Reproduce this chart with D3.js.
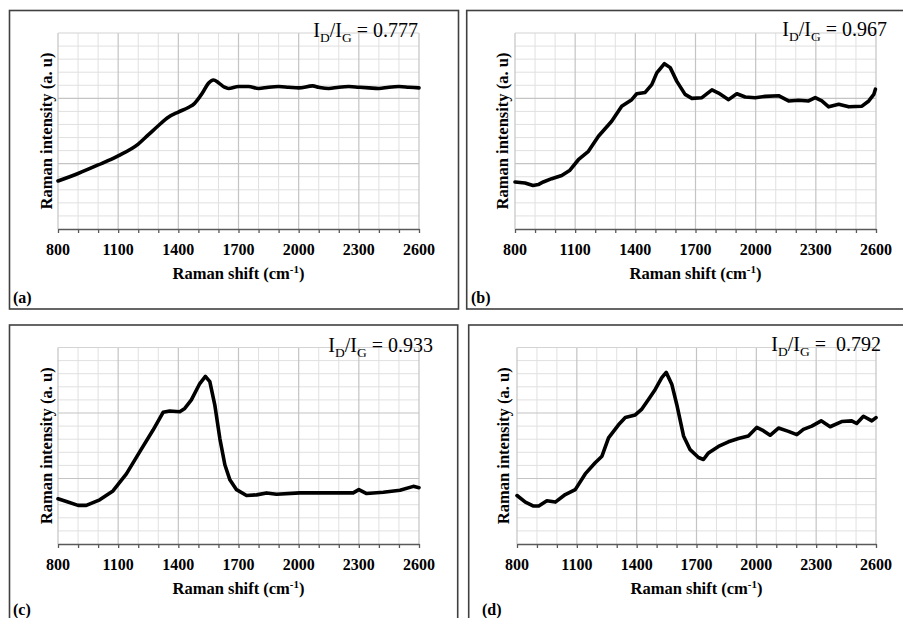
<!DOCTYPE html>
<html><head><meta charset="utf-8">
<script src="https://cdn.jsdelivr.net/npm/d3@7"></script>
<style>body{margin:0;background:#fff}svg{display:block}</style>
</head><body>
<svg id="c" width="903" height="618"></svg>
<script>
// ---- data ----
const xTicks = [800, 1100, 1400, 1700, 2000, 2300, 2600];
const panelLabels = ["(a)", "(b)", "(c)", "(d)"];
const ratios = ["0.777", "0.967", "0.933", " 0.792"];

const shiftA = [800,900,1000,1100,1200,1250,1300,1350,1400,1450,1480,1520,1550,1575,1600,1630,1650,1700,1750,1800,1850,1900,1950,2000,2070,2100,2150,2200,2250,2300,2350,2400,2450,2500,2550,2600];
const intA   = [0.735,0.85,0.98,1.12,1.30,1.44,1.58,1.71,1.79,1.86,1.92,2.08,2.23,2.28,2.24,2.17,2.15,2.18,2.18,2.15,2.17,2.18,2.17,2.16,2.19,2.17,2.15,2.17,2.18,2.17,2.16,2.15,2.17,2.18,2.17,2.16];

const shiftB = [800,850,890,916,941,983,1033,1074,1116,1166,1216,1282,1332,1382,1407,1449,1482,1507,1545,1574,1607,1648,1682,1732,1782,1815,1865,1906,1948,1998,2048,2114,2164,2214,2264,2297,2330,2364,2414,2464,2530,2564,2589,2597];
const intB   = [0.72,0.705,0.665,0.68,0.72,0.77,0.82,0.90,1.06,1.19,1.42,1.65,1.88,1.98,2.07,2.09,2.21,2.39,2.53,2.47,2.26,2.06,2.00,2.01,2.13,2.08,1.98,2.07,2.02,2.01,2.03,2.04,1.96,1.97,1.96,2.01,1.96,1.87,1.91,1.87,1.88,1.96,2.06,2.14];

const shiftC = [800,842,900,941,1008,1074,1141,1208,1274,1324,1357,1407,1432,1465,1507,1535,1557,1582,1607,1632,1657,1690,1740,1790,1840,1890,2006,2172,2272,2300,2339,2422,2505,2572,2600];
const intC   = [0.69,0.65,0.59,0.59,0.675,0.81,1.07,1.41,1.74,2.01,2.03,2.02,2.07,2.20,2.45,2.56,2.48,2.12,1.61,1.21,0.98,0.83,0.74,0.75,0.78,0.76,0.78,0.78,0.78,0.83,0.77,0.79,0.82,0.88,0.86];

const shiftD = [800,842,883,909,950,992,1042,1092,1142,1192,1226,1259,1309,1343,1393,1426,1460,1493,1526,1548,1576,1601,1635,1668,1710,1735,1760,1810,1860,1910,1960,2002,2035,2069,2111,2161,2203,2236,2278,2325,2370,2428,2478,2503,2537,2579,2600];
const intD   = [0.74,0.64,0.58,0.58,0.66,0.64,0.755,0.83,1.07,1.24,1.34,1.62,1.82,1.93,1.97,2.06,2.21,2.36,2.54,2.62,2.44,2.13,1.65,1.44,1.32,1.29,1.39,1.49,1.56,1.61,1.65,1.78,1.73,1.66,1.77,1.72,1.67,1.75,1.80,1.88,1.79,1.87,1.88,1.84,1.95,1.88,1.93];

const series = [[shiftA,intA],[shiftB,intB],[shiftC,intC],[shiftD,intD]];

// ---- layout ----
const layout = [
  {box:[9.5,10.5,449,298.5], plot:[58,33,419,229], label:[13,303], ann:[418,37], yt:47},
  {box:[466.7,10.5,450,298.5], plot:[515,33,876,229], label:[471,303], ann:[887,36], yt:503},
  {box:[9.5,325,448.2,300], plot:[58,347.5,419,544], label:[13,615], ann:[433,352], yt:47},
  {box:[468.7,325,450,300], plot:[517,347.5,876,544], label:[482,615], ann:[881,351], yt:504}
];

const svg = d3.select("#c");
const serif = "'Liberation Serif','Times New Roman',serif";

layout.forEach((L, i) => {
  const g = svg.append("g");
  const [x0,y0,x1,y1] = L.plot;
  const x = d3.scaleLinear().domain([800,2600]).range([x0,x1]);
  const y = d3.scaleLinear().domain([0,3]).range([y1,y0]);

  // border
  g.append("rect").attr("x",L.box[0]).attr("y",L.box[1]).attr("width",L.box[2]).attr("height",L.box[3])
    .attr("fill","none").attr("stroke","#404040").attr("stroke-width",1.6);

  // grid
  const minorX = d3.range(900,2600,100).filter(v => (v-800)%300 !== 0);
  const majorX = d3.range(800,2601,300);
  const minorY = d3.range(0.2,3.0,0.2).filter(v => Math.abs(v-Math.round(v))>1e-6);
  const majorY = [1,2,3];
  g.selectAll(".mx").data(minorX).join("line")
    .attr("x1",d=>x(d)).attr("x2",d=>x(d)).attr("y1",y0).attr("y2",y1)
    .attr("stroke","#e0e0e0").attr("stroke-width",1);
  g.selectAll(".my").data(minorY).join("line")
    .attr("y1",d=>y(d)).attr("y2",d=>y(d)).attr("x1",x0).attr("x2",x1)
    .attr("stroke","#e0e0e0").attr("stroke-width",1);
  g.selectAll(".Mx").data(majorX).join("line")
    .attr("x1",d=>x(d)).attr("x2",d=>x(d)).attr("y1",y0).attr("y2",y1)
    .attr("stroke","#c4c4c4").attr("stroke-width",1.2);
  g.selectAll(".My").data(majorY).join("line")
    .attr("y1",d=>y(d)).attr("y2",d=>y(d)).attr("x1",x0).attr("x2",x1)
    .attr("stroke",d=>d===3?"#d4d4d4":"#c4c4c4").attr("stroke-width",1.2);

  // x axis
  const ax = g.append("g").attr("transform",`translate(0,${y1})`)
    .call(d3.axisBottom(x).tickValues(d3.range(800,2601,100)).tickSize(4).tickSizeOuter(0).tickFormat(""));
  ax.select(".domain").attr("stroke","#595959").attr("stroke-width",1.3);
  ax.selectAll(".tick line").attr("stroke","#595959").attr("stroke-width",1.3);
  g.selectAll(".xl").data(xTicks).join("text")
    .attr("x",d=>x(d)).attr("y",y1+26).attr("text-anchor","middle")
    .attr("font-family",serif).attr("font-weight","bold").attr("font-size",16).attr("fill","#000")
    .text(d=>d);

  // x title
  const xt = g.append("text").attr("x",(x0+x1)/2).attr("y",y1+50).attr("text-anchor","middle")
    .attr("font-family",serif).attr("font-weight","bold").attr("font-size",16.5).attr("fill","#000");
  xt.append("tspan").text("Raman shift (cm");
  xt.append("tspan").attr("dy",-6).attr("font-size",11).text("-1");
  xt.append("tspan").attr("dy",6).text(")");

  // y title
  g.append("text").attr("transform",`translate(${L.yt+5},${(y0+y1)/2}) rotate(-90)`)
    .attr("text-anchor","middle")
    .attr("font-family",serif).attr("font-weight","bold").attr("font-size",16.5).attr("fill","#000")
    .text("Raman intensity (a. u)");

  // curve
  const [sx, sy] = series[i];
  const pts = sx.map((v,k)=>[v, sy[k]]);
  g.append("path").datum(pts)
    .attr("fill","none").attr("stroke","#000").attr("stroke-width",3.6)
    .attr("stroke-linejoin","round").attr("stroke-linecap","round")
    .attr("d", d3.line().x(d=>x(d[0])).y(d=>y(d[1])).curve(i===0?d3.curveMonotoneX:d3.curveLinear));

  // annotation
  const an = g.append("text").attr("x",L.ann[0]).attr("y",L.ann[1]).attr("text-anchor","end")
    .attr("font-family",serif).attr("font-size",20).attr("fill","#000").attr("xml:space","preserve");
  an.append("tspan").text("I");
  an.append("tspan").attr("dy",5).attr("font-size",13.5).text("D");
  an.append("tspan").attr("dy",-5).text("/I");
  an.append("tspan").attr("dy",5).attr("font-size",13.5).text("G");
  an.append("tspan").attr("dy",-5).text(" = " + ratios[i]);

  // panel label
  g.append("text").attr("x",L.label[0]).attr("y",L.label[1])
    .attr("font-family",serif).attr("font-weight","bold").attr("font-size",16).attr("fill","#000")
    .text(panelLabels[i]);
});
</script>
</body></html>
